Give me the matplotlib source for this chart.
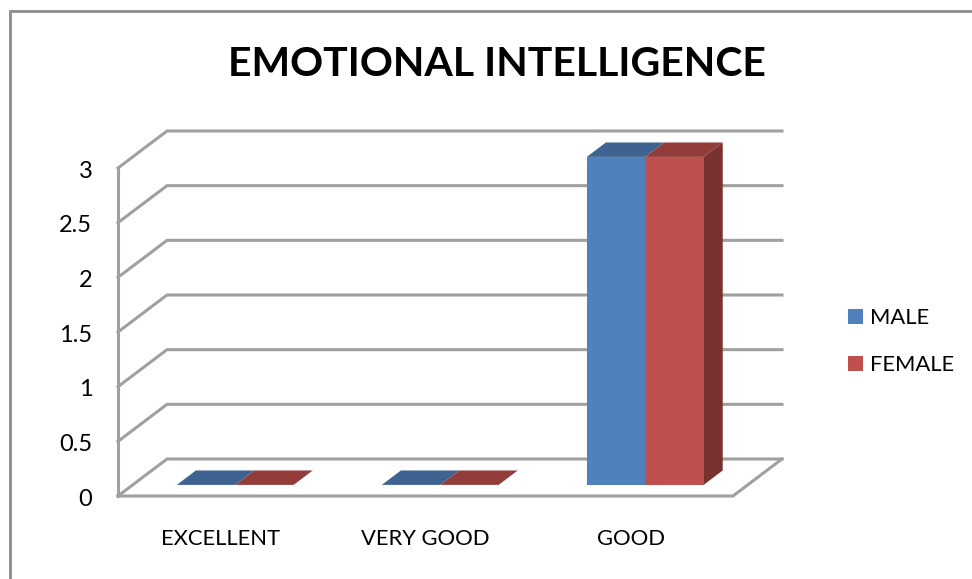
import matplotlib
matplotlib.use("Agg")
import matplotlib.pyplot as plt
from matplotlib.lines import Line2D
from matplotlib.patches import Patch, Polygon
from matplotlib.transforms import ScaledTranslation

plt.rcParams["font.family"] = ["Lato", "DejaVu Sans"]

categories = ["EXCELLENT", "VERY GOOD", "GOOD"]
male = [0, 0, 3]
female = [0, 0, 3]
yticks = [0, 0.5, 1, 1.5, 2, 2.5, 3]
ytick_labels = ["0", "0.5", "1", "1.5", "2", "2.5", "3"]

GRID = "#a0a0a0"
W, H = 972, 579

fig = plt.figure(figsize=(W / 100, H / 100), dpi=100)
# axes = front plane of the 3d box, x in categories, y in value units
ax = fig.add_axes([118 / W, 1 - 496 / H, 615 / W, 328 / H])
ax.set_xlim(0, 3)
ax.set_ylim(0, 3)
for s in ax.spines.values():
    s.set_visible(False)
ax.patch.set_alpha(0)

# oblique depth of the box, in data units
DX = 49 / 615 * 3
DY = 37 / 328 * 3

def proj(x, y, d=0.0):
    return (x + DX * d, y + DY * d)

# walls and floor
for v in yticks:
    x0, y0 = proj(0, v, 1)
    x1, y1 = proj(3, v, 1)
    xf, yf = proj(0, v, 0)
    ax.plot([xf, x0, x1], [yf, y0, y1], color=GRID, lw=2.2, clip_on=False,
            solid_joinstyle="miter", zorder=1)
ax.plot([0, 0], [0, 3], color=GRID, lw=2.2, clip_on=False, zorder=1)
fx, fy = proj(3, 0, 1)
ax.plot([0, 3, fx], [0, 0, fy], color=GRID, lw=2.2, clip_on=False,
        solid_joinstyle="miter", zorder=1)

# bars
BAR_W = 0.285
D0, D1 = 0.30, 0.69

def draw_bar(x, w, v, front, top, side=None):
    a, b = x, x + w
    if v > 0:
        ax.add_patch(Polygon([proj(a, 0, D0), proj(b, 0, D0), proj(b, v, D0), proj(a, v, D0)],
                             fc=front, ec="none", clip_on=False, zorder=3))
    ax.add_patch(Polygon([proj(a, v, D0), proj(b, v, D0), proj(b, v, D1), proj(a, v, D1)],
                         fc=top, ec="none", clip_on=False, zorder=3))
    if side is not None:
        ax.add_patch(Polygon([proj(b, 0, D0), proj(b, v, D0), proj(b, v, D1), proj(b, 0, D1)],
                             fc=side, ec="none", clip_on=False, zorder=2.9))

for i, (m, f) in enumerate(zip(male, female)):
    c = i + 0.5
    draw_bar(c - BAR_W, BAR_W, m, "#4f81bd", "#3e6390")
    draw_bar(c, BAR_W, f, "#c0504d", "#933d3b", "#7a3230" if f > 0 else None)

ax.set_xticks([i + 0.5 for i in range(len(categories))], categories)
ax.set_yticks(yticks, ytick_labels)
ax.tick_params(axis="x", length=0, labelsize=15.8, pad=24)
ax.tick_params(axis="y", length=0, labelsize=17, pad=18.5)
# labels sit a little lower than centred on the tick
for lab in ax.get_yticklabels():
    lab.set_transform(lab.get_transform() + ScaledTranslation(0, -1 / 100, fig.dpi_scale_trans))

fig.text(497 / W, 1 - 64 / H, "EMOTIONAL INTELLIGENCE", fontsize=29.5, fontweight="bold",
         ha="center", va="center", color="black")

handles = [Patch(fc="#4f81bd", label="MALE"), Patch(fc="#c0504d", label="FEMALE")]
fig.legend(handles=handles, loc="center left", bbox_to_anchor=(828 / W, 1 - 341.5 / H),
           frameon=False, fontsize=15.8, handlelength=0.68, handleheight=0.68,
           handletextpad=0.32, labelspacing=1.25)

# outer chart border, cropped at right and bottom
fig.add_artist(Line2D([10 / W, 10 / W, 1], [0, 1 - 11 / H, 1 - 11 / H],
                      color="#8c8c8c", lw=2, transform=fig.transFigure,
                      solid_joinstyle="miter"))

fig.savefig("out.png", dpi=100)
